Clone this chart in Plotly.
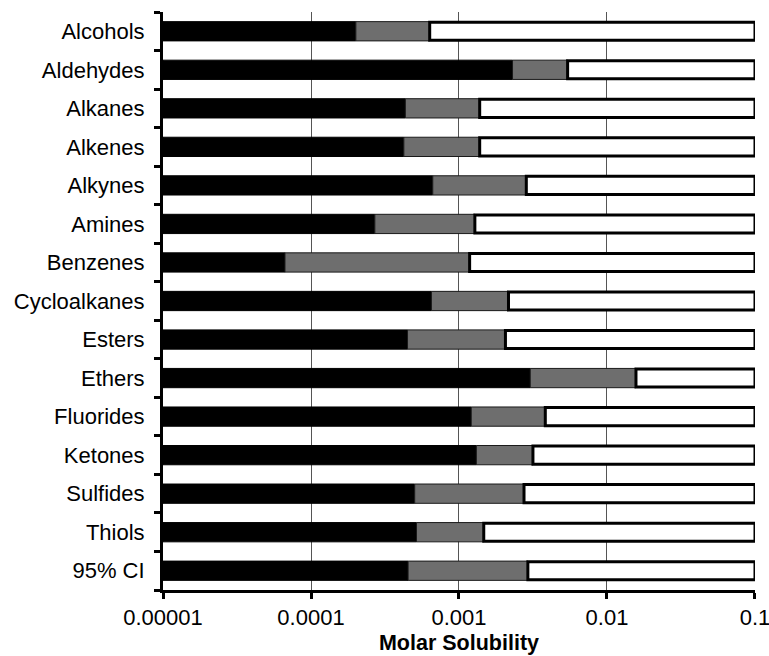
import plotly.graph_objects as go

# Compound classes (top to bottom)
classes = ["Alcohols", "Aldehydes", "Alkanes", "Alkenes", "Alkynes", "Amines",
           "Benzenes", "Cycloalkanes", "Esters", "Ethers", "Fluorides",
           "Ketones", "Sulfides", "Thiols", "95% CI"]

# Lower and upper solubility thresholds (mol/L)
lower = [2.01e-4, 2.30e-3, 4.34e-4, 4.24e-4, 6.65e-4, 2.70e-4, 6.67e-5,
         6.51e-4, 4.49e-4, 3.03e-3, 1.21e-3, 1.31e-3, 5.02e-4, 5.16e-4, 4.53e-4]
upper = [6.34e-4, 5.42e-3, 1.38e-3, 1.38e-3, 2.85e-3, 1.28e-3, 1.18e-3,
         2.16e-3, 2.06e-3, 1.57e-2, 3.83e-3, 3.16e-3, 2.75e-3, 1.47e-3, 2.92e-3]

x_min = 1e-5
x_max = 0.1
tick_vals = [1e-5, 1e-4, 1e-3, 1e-2, 1e-1]
tick_text = ["0.00001", "0.0001", "0.001", "0.01", "0.1"]

font_family = "Liberation Sans, Arial, sans-serif"
n = len(classes)

fig = go.Figure()

# Black segment: from axis minimum to lower threshold
fig.add_trace(go.Bar(
    y=classes, x=[v - x_min for v in lower], base=[x_min] * n,
    orientation="h", width=0.5,
    marker=dict(color="#000000", line=dict(color="#000000", width=1)),
    showlegend=False))

# Gray segment: between lower and upper threshold
fig.add_trace(go.Bar(
    y=classes, x=[u - l for l, u in zip(lower, upper)], base=lower,
    orientation="h", width=0.5,
    marker=dict(color="#6e6e6e", line=dict(color="#1a1a1a", width=1)),
    showlegend=False))

# White segment: from upper threshold to axis maximum
fig.add_trace(go.Bar(
    y=classes, x=[x_max - u for u in upper], base=upper,
    orientation="h", width=0.47,
    marker=dict(color="#ffffff", line=dict(color="#000000", width=3)),
    showlegend=False))

# Invisible trace on a linear overlay axis that carries the boundary ticks
fig.add_trace(go.Scatter(
    x=[x_min], y=[0], yaxis="y2", mode="markers",
    marker=dict(opacity=0), hoverinfo="skip", showlegend=False))

fig.update_layout(
    width=769, height=656,
    margin=dict(l=163, r=14, t=12, b=66, autoexpand=False),
    paper_bgcolor="white", plot_bgcolor="white",
    barmode="overlay",
    font=dict(family=font_family, color="black", size=22),
    yaxis=dict(
        type="category", categoryorder="array", categoryarray=classes,
        range=[n - 0.5, -0.5], automargin=False,
        tickfont=dict(size=22),
        showgrid=False,
        showline=True, linecolor="black", linewidth=3,
        ticks="", ticklabelstandoff=11,
    ),
    yaxis2=dict(
        overlaying="y", side="left", automargin=False,
        range=[n - 0.5, -0.5],
        tickvals=[i - 0.5 for i in range(n + 1)],
        showticklabels=False, showgrid=False, zeroline=False,
        showline=True, linecolor="black", linewidth=3,
        ticks="outside", ticklen=6, tickwidth=3, tickcolor="black",
    ),
)

fig.update_xaxes(
    type="log", range=[-5, -0.9999], automargin=False,
    tickvals=tick_vals, ticktext=tick_text,
    tickfont=dict(size=22),
    ticklabeloverflow="allow", ticklabelstandoff=0,
    showgrid=True, gridcolor="#555555", gridwidth=1,
    showline=True, linecolor="black", linewidth=3,
    ticks="outside", ticklen=6, tickwidth=3, tickcolor="black",
    zeroline=False,
    title=dict(text="<b>Molar Solubility</b>", font=dict(size=21.5), standoff=6),
)

fig.write_html("out.html")
